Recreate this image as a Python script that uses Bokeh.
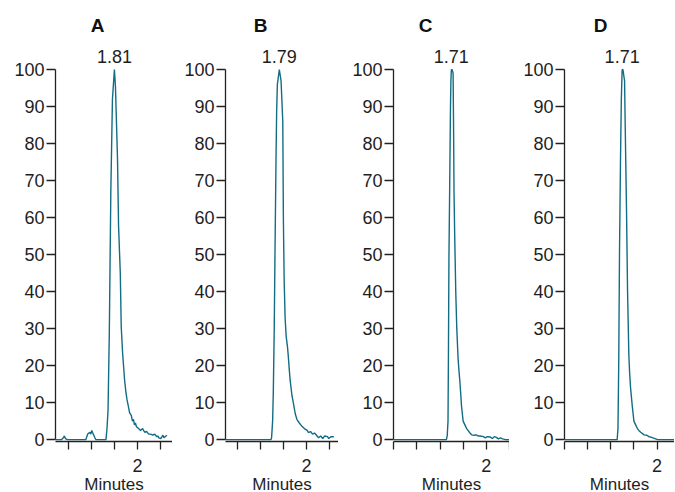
from bokeh.plotting import figure
from bokeh.models import FixedTicker, CustomJSTickFormatter, Range1d
from bokeh.layouts import row
from bokeh.embed import file_html
from bokeh.resources import INLINE
from bokeh.core.properties import value

# ---------------- data ----------------
panel_titles = ["A", "B", "C", "D"]
peak_labels = ["1.81", "1.79", "1.71", "1.71"]
y_ticks = [0, 10, 20, 30, 40, 50, 60, 70, 80, 90, 100]
x_ticks = [1.2, 1.4, 1.6, 1.8, 2.0, 2.2]

a_time = [1.288, 1.341, 1.358, 1.367, 1.376, 1.393, 1.552, 1.569, 1.587, 1.596,
          1.604, 1.613, 1.631, 1.640, 1.727, 1.736, 1.745, 1.756, 1.769, 1.783,
          1.800, 1.809, 1.827, 1.836, 1.851, 1.859, 1.871, 1.888, 1.899, 1.909,
          1.921, 1.932, 1.938, 1.947, 1.956, 1.965, 1.974, 1.982, 1.991, 2.009,
          2.026, 2.044, 2.062, 2.079, 2.097, 2.114, 2.132, 2.149, 2.167, 2.176,
          2.185, 2.202, 2.220, 2.229, 2.246, 2.255]
a_resp = [0, 0, 0.5, 1, 0.3, 0, 0, 1.5, 2, 1.5,
          2.5, 1.8, 0.5, 0, 0, 3, 8, 29, 67, 92,
          100, 95.5, 75.7, 57.7, 45, 30.6, 23.4, 16.2, 13, 10.8,
          9, 7.2, 7, 6.5, 5, 5.5, 4, 4.5, 3.5, 3,
          2.5, 3, 2, 2.2, 1.5, 1.5, 1.2, 1.5, 0.8, 1,
          0.5, 0.3, 1.2, 0.5, 1, 1.2]

b_time = [1.288, 1.692, 1.698, 1.707, 1.713, 1.721, 1.727, 1.736, 1.742, 1.748,
          1.765, 1.780, 1.795, 1.800, 1.807, 1.815, 1.824, 1.836, 1.844, 1.851,
          1.859, 1.874, 1.886, 1.903, 1.917, 1.938, 1.961, 1.982, 2.006, 2.018,
          2.035, 2.053, 2.070, 2.094, 2.105, 2.123, 2.141, 2.158, 2.182, 2.193,
          2.211, 2.237]
b_resp = [0, 0, 0.5, 5, 13, 30, 49, 75, 89, 96,
          100, 97, 86, 60, 43, 33, 28, 25, 22, 19,
          16, 12, 10, 7, 5.5, 4.5, 3.6, 3, 2.5, 1.9,
          2.2, 1.5, 1.8, 0.9, 0.5, 1, 0.3, 1, 0.8, 0.3,
          0.8, 0.8]

c_time = [1.197, 1.655, 1.662, 1.669, 1.673, 1.677, 1.684, 1.690, 1.694, 1.698,
          1.705, 1.713, 1.717, 1.721, 1.727, 1.736, 1.745, 1.756, 1.763, 1.771,
          1.780, 1.786, 1.793, 1.800, 1.815, 1.830, 1.842, 1.859, 1.874, 1.895,
          1.912, 1.930, 1.947, 1.976, 1.991, 2.009, 2.035, 2.053, 2.070, 2.088,
          2.105, 2.123, 2.141, 2.167, 2.200]
c_resp = [0, 0, 1, 5, 25, 49, 70, 89, 97, 100,
          100, 99, 85, 67, 55, 40, 30, 22, 19, 16,
          12, 9, 7, 5, 4, 3, 2.5, 1.8, 1.3, 1.2,
          1.3, 1, 1, 0.8, 0.5, 0.8, 0.7, 0.3, 0.8, 0.6,
          0.2, 0.5, 0.2, 0, 0]

d_time = [1.199, 1.655, 1.662, 1.669, 1.675, 1.684, 1.691, 1.698, 1.705, 1.719,
          1.727, 1.736, 1.745, 1.756, 1.763, 1.771, 1.780, 1.786, 1.793, 1.800,
          1.815, 1.830, 1.842, 1.859, 1.888, 1.912, 1.930, 1.947, 1.965, 1.982,
          2.006, 2.170]
d_resp = [0, 0, 3, 22, 50, 76, 92, 100, 100, 97,
          80, 62, 40, 23, 18, 14, 11, 9, 7, 5,
          4, 3, 2.5, 2, 1.3, 1.2, 0.8, 0.7, 0.5, 0.3,
          0, 0]

series = [(a_time, a_resp), (b_time, b_resp), (c_time, c_resp), (d_time, d_resp)]

# ---------------- layout / style ----------------
PX_PER_MIN = 115.5
panel_layout = [  # (x start, left border px, frame width px, title offset px)
    (1.290, 55, 117, 42),
    (1.299, 53, 113, 35),
    (1.197, 55, 116, 32),
    (1.199, 55, 110, 36),
]
FONT = "Liberation Sans"
TXT = "#1e1e1e"
LINE = "#126c84"

fmt = CustomJSTickFormatter(code="return Math.abs(tick - 2) < 1e-6 ? '2' : '';")

figs = []
for i, ((t, r), (x0, lb, fw, toff)) in enumerate(zip(series, panel_layout)):
    x1 = x0 + fw / PX_PER_MIN
    p = figure(frame_width=fw, frame_height=434,
               x_range=Range1d(x0, x1), y_range=Range1d(-0.5, 116.8),
               output_backend="svg", toolbar_location=None,
               min_border_left=lb, min_border_right=0, min_border_top=7,
               min_border_bottom=0)
    p.outline_line_color = None
    p.grid.visible = False
    p.background_fill_color = "white"
    p.border_fill_color = "white"

    p.line(t, r, line_color=LINE, line_width=1.4)

    k = max(range(len(r)), key=lambda j: r[j])
    p.text(x=[t[k]], y=[103.6], text=[peak_labels[i]], text_font=value(FONT),
           text_font_size="18px", text_color=TXT, text_align="center",
           text_baseline="alphabetic")
    p.text(x=[x0 + toff / PX_PER_MIN], y=[111.8], text=[panel_titles[i]],
           text_font=value(FONT), text_font_style="bold", text_font_size="19px",
           text_color="#111111", text_align="center", text_baseline="alphabetic")

    xa = p.xaxis[0]
    xa.ticker = FixedTicker(ticks=x_ticks)
    xa.formatter = fmt
    xa.minor_tick_line_color = None
    xa.major_tick_out = 8
    xa.major_tick_in = 0
    xa.axis_line_width = 1.3
    xa.major_tick_line_width = 1.3
    xa.axis_line_color = "#222222"
    xa.major_tick_line_color = "#222222"
    xa.major_label_text_font = FONT
    xa.major_label_text_font_size = "18px"
    xa.major_label_text_color = TXT
    xa.major_label_standoff = 9
    xa.axis_label = "Minutes"
    xa.axis_label_text_font = FONT
    xa.axis_label_text_font_size = "17px"
    xa.axis_label_text_font_style = "normal"
    xa.axis_label_text_color = TXT
    xa.axis_label_standoff = 0

    ya = p.yaxis[0]
    ya.ticker = FixedTicker(ticks=y_ticks)
    ya.bounds = (0, 100)
    ya.minor_tick_line_color = None
    ya.major_tick_out = 9
    ya.major_tick_in = 0
    ya.axis_line_width = 1.3
    ya.major_tick_line_width = 1.3
    ya.axis_line_color = "#222222"
    ya.major_tick_line_color = "#222222"
    ya.major_label_text_font = FONT
    ya.major_label_text_font_size = "18px"
    ya.major_label_text_color = TXT
    ya.major_label_standoff = 2
    figs.append(p)

layout = row(*figs, spacing=0)
open("out.html", "w").write(file_html(layout, INLINE))
